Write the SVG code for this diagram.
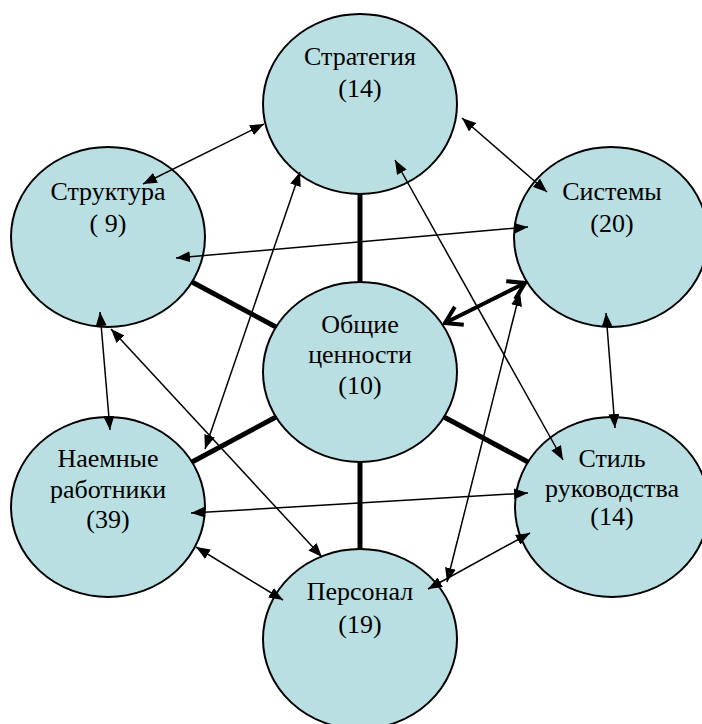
<svg xmlns="http://www.w3.org/2000/svg" width="702" height="724" viewBox="0 0 702 724">
<style>
.node ellipse{fill:#B9DFE3;stroke:#000;stroke-width:2}
.node text{font-family:"Liberation Serif","Times New Roman",serif;font-size:26px;fill:#000;text-anchor:middle}
.thin{stroke:#000;stroke-width:1.5;fill:none;marker-start:url(#ah);marker-end:url(#ah)}
.spoke{stroke:#000;stroke-width:5;fill:none}
.dbl{stroke:#000;stroke-width:4;fill:none;marker-start:url(#oh);marker-end:url(#oh)}
</style>
<defs>
<marker id="ah" viewBox="0 0 14 11" refX="14" refY="5.5" markerWidth="14" markerHeight="11" markerUnits="userSpaceOnUse" orient="auto-start-reverse">
<path d="M0,0 L14,5.5 L0,11 z" fill="#000"/>
</marker>
<marker id="oh" viewBox="0 0 20 24" refX="18" refY="12" markerWidth="20" markerHeight="24" markerUnits="userSpaceOnUse" orient="auto-start-reverse">
<path d="M2,2 L18,12 L2,22" fill="none" stroke="#000" stroke-width="4"/>
</marker>
</defs>
<rect width="702" height="724" fill="#fff"/>
<g id="nodes">
<g id="strategy" class="node"><ellipse cx="360" cy="104" rx="97" ry="90"/><text x="360" y="65">Стратегия</text><text x="360" y="97">(14)</text></g>
<g id="structure" class="node"><ellipse cx="108" cy="237" rx="97" ry="90"/><text x="108" y="200">Структура</text><text x="108" y="232">( 9)</text></g>
<g id="systems" class="node"><ellipse cx="611" cy="237" rx="97" ry="90"/><text x="612" y="200">Системы</text><text x="612" y="232">(20)</text></g>
<g id="values" class="node"><ellipse cx="360" cy="372" rx="97" ry="90"/><text x="360" y="333">Общие</text><text x="360" y="363">ценности</text><text x="360" y="394">(10)</text></g>
<g id="staff" class="node"><ellipse cx="108" cy="507" rx="97" ry="90"/><text x="108" y="467">Наемные</text><text x="108" y="498">работники</text><text x="108" y="528">(39)</text></g>
<g id="style" class="node"><ellipse cx="612" cy="507" rx="97" ry="90"/><text x="612" y="467">Стиль</text><text x="612" y="497">руководства</text><text x="612" y="525">(14)</text></g>
<g id="personnel" class="node"><ellipse cx="360" cy="639" rx="97" ry="90"/><text x="360" y="600">Персонал</text><text x="360" y="633">(19)</text></g>
</g>
<g id="connectors">
<line class="spoke" x1="360" y1="194" x2="360" y2="282"/>
<line class="spoke" x1="360" y1="462" x2="360" y2="549"/>
<line class="spoke" x1="192" y1="282" x2="276" y2="327"/>
<line class="spoke" x1="192" y1="462" x2="276" y2="417"/>
<line class="spoke" x1="444" y1="417" x2="528" y2="462"/>
<line class="dbl" x1="445" y1="323" x2="525" y2="283"/>
<line class="thin" x1="143" y1="184" x2="264" y2="124"/>
<line class="thin" x1="176" y1="258" x2="528" y2="227"/>
<line class="thin" x1="462" y1="118" x2="547" y2="192"/>
<line class="thin" x1="395" y1="160" x2="563" y2="460"/>
<line class="thin" x1="300" y1="172" x2="205" y2="449"/>
<line class="thin" x1="100" y1="312" x2="110" y2="430"/>
<line class="thin" x1="111" y1="329" x2="322" y2="557"/>
<line class="thin" x1="191" y1="513" x2="528" y2="493"/>
<line class="thin" x1="196" y1="547" x2="283" y2="600"/>
<line class="thin" x1="428" y1="589" x2="530" y2="533"/>
<line class="thin" x1="447" y1="582" x2="520" y2="292"/>
<line class="thin" x1="606" y1="313" x2="615" y2="428"/>
</g>
</svg>
